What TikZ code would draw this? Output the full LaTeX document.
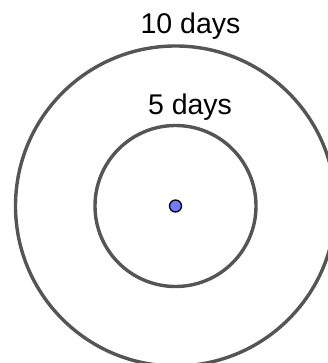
\documentclass[tikz,border=0pt]{standalone}
\usepackage{fontspec}
\setmainfont{Liberation Sans}
\usepackage{xcolor}
\usetikzlibrary{positioning}
\definecolor{ringgray}{HTML}{555555}
\definecolor{dotblue}{HTML}{7777FF}

\begin{document}
\begin{tikzpicture}[
    x=1pt, y=-1pt,
    ring/.style={draw=ringgray, circle, line width=3.4pt, inner sep=0pt},
    dot/.style={draw=black, fill=dotblue, circle, line width=1.3pt, inner sep=0pt, minimum size=12pt},
    days/.style={font=\fontsize{28.5}{32}\selectfont, inner sep=0pt, anchor=base},
]
    \useasboundingbox (0,0) rectangle (327,363);
    % centre point
    \node[dot] (c) at (175.5,206) {};
    % rings
    \node[ring, minimum size=161pt] (ring5) at (c) {};
    \node[ring, minimum size=320pt] (ring10) at (c) {};
    % labels
    \node[days, above=9pt of ring5.north, anchor=base, xshift=14.5pt] (lbl5) {5 days};
    \node[days, above=11pt of ring10.north, anchor=base, xshift=15pt] (lbl10) {10 days};
\end{tikzpicture}
\end{document}
